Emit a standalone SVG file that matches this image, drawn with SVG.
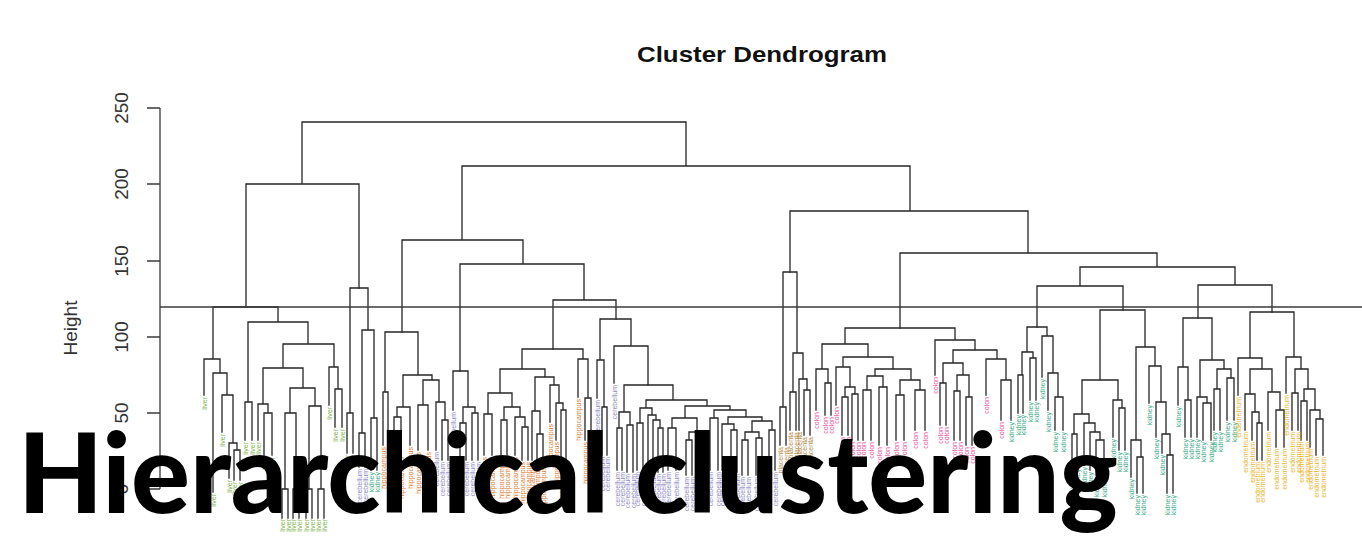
<svg xmlns="http://www.w3.org/2000/svg" width="1362" height="537" viewBox="0 0 1362 537">
<style>
.tr{fill:none;stroke:#262626;stroke-width:1.3;stroke-linecap:square}
.ax{fill:none;stroke:#3a3a3a;stroke-width:1.3}
.tk{font-family:"Liberation Sans",Arial,sans-serif;font-size:19px;fill:#333;text-anchor:middle}
.lb text{font-family:"Liberation Sans",Arial,sans-serif;font-size:7px;text-anchor:end;opacity:0.85}
.lv{fill:#66A61E}.kd{fill:#1B9E77}.hp{fill:#D95F02}.cb{fill:#7570B3}.co{fill:#E7298A}.en{fill:#E6AB02}.pl{fill:#A6761D}
</style>
<rect width="1362" height="537" fill="#fff"/>
<g id="title"><text x="762" y="62" font-family="Liberation Sans,Arial,sans-serif" font-weight="bold" font-size="22" fill="#111" text-anchor="middle" textLength="250" lengthAdjust="spacingAndGlyphs">Cluster Dendrogram</text></g>
<g id="axis">
<path class="ax" d="M160 108V489M147 108H160M147 184H160M147 261H160M147 337H160M147 413H160M147 489H160"/>
<text class="tk" transform="translate(128 108)rotate(-90)">250</text>
<text class="tk" transform="translate(128 184)rotate(-90)">200</text>
<text class="tk" transform="translate(128 261)rotate(-90)">150</text>
<text class="tk" transform="translate(128 337)rotate(-90)">100</text>
<text class="tk" transform="translate(128 413)rotate(-90)">50</text>
<text class="tk" transform="translate(128 489)rotate(-90)">0</text>
<text class="tk" font-size="21" transform="translate(77 328)rotate(-90)">Height</text>
</g>
<g id="connectors">
<path class="tr" d="M302 184V122H686V166M246 307V184H359V288M462 240V166H910V211M402 332V240H523V264M460 371V264H584V300M553 349V300H616V319M790 272V211H1028V253M900 328V253H1157V267M1080 286V267H1235V285M1037 327V286H1123V310M1198 318V285H1272V312"/>
<path class="tr" d="M213 359V307H278V322M204 395V359H220V373M213 492V373H227V395M222 432V395H233V443M229 478V443H237V450M234 480V450H240V480M248 402V322H308V344M245 440V402H252V440M283 368V344H334V367M263 404V368H303V388M258 440V404H268V413M264 455V413H272V455M290 413V388H315V406M285 489V413H296V489M282 518V489H288V518M293 518V489H299V518M309 489V406H321V489M306 518V489H312V518M318 518V489H324V518M329 405V367H338V389M335 427V389H342V427"/>
<path class="tr" d="M350 413V288H368V330M347 453V413H353V453M362 433V330H374V418M359 467V433H365V467M371 470V418H377V470"/>
<path class="tr" d="M385 392V332H418V375M383 445V392H388V445M403 407V375H432V380M397 417V407H410V445M394 455V417H401V455M423 405V380H439V402M418 450V405H428V450M436 450V402H445V420M442 460V420H448V460"/>
<path class="tr" d="M453 410V371H468V407M463 423V407H475V413M460 460V423H466V460M472 460V413H478V460"/>
<path class="tr" d="M522 369V349H583V359M500 393V369H545V377M488 414V393H512V407M484 455V414H492V455M504 420V407H520V417M501 455V420H507V455M515 455V417H525V427M522 460V427H528V460M535 411V377H554V385M532 460V411H540V434M537 465V434H543V465M550 422V385H559V403M556 440V403H563V410M561 460V410H566V460M578 397V359H588V398M585 440V398H591V440"/>
<path class="tr" d="M600 360V319H631V346M597 398V360H604V407M602 455V407H607V455M614 383V346H648V385"/>
<path class="tr" d="M624 412V385H673V400M619 428V412H630V425M617 470V428H622V470M627 472V425H633V472M646 408V400H707V406M640 423V408H652V415M637 470V423H643V470M648 468V415H656V420M653 470V420H660V428M658 472V428H663V472M685 418V406H730V410M672 428V418H697V432M668 470V428H676V470M689 440V432H704V472M686 475V440H692V475M714 418V410H746V417M710 470V418H718V470M728 424V417H762V421M722 470V424H734V430M731 472V430H737V472M752 432V421H772V430M745 440V432H759V438M742 475V440H748V475M756 475V438H762V475M769 470V430H775V470"/>
<path class="tr" d="M783 407V272H797V353M780 445V407H786V445M793 392V353H803V379M790 430V392H796V430M799 430V379H807V390M804 435V390H810V435"/>
<path class="tr" d="M845 344V328H955V340M822 369V344H868V357M816 410V369H828V383M825 415V383H831V415M843 367V357H893V369M836 405V367H850V387M845 397V387H855V394M842 435V397H848V435M852 440V394H858V440M875 376V369H911V380M867 390V376H883V387M863 440V390H871V440M879 445V387H887V445M900 395V380H920V390M896 440V395H904V440M915 430V390H925V430M935 375V340H975V350M953 363V350H997V359M943 383V363H963V375M940 425V383H946V425M957 391V375H969V397M954 440V391H960V440M966 445V397H972V445M986 395V359H1006V380M1001 420V380H1011V420"/>
<path class="tr" d="M1027 352V327H1047V336M1022 375V352H1033V358M1018 413V375H1023V413M1030 400V358H1036V400M1042 377V336H1053V373M1048 410V373H1058V397M1055 430V397H1063V430M1100 380V310H1145V347M1082 414V380H1118V400M1074 434V414H1089V423M1072 467V434H1077V467M1084 465V423H1095V432M1090 470V432H1100V440M1096 475V440H1104V475M1113 437V400H1122V408M1119 450V408H1125V450M1136 440V347H1155V366M1131 477V440H1141V457M1137 493V457H1143V493M1149 403V366H1161V402M1156 437V402H1166V434M1162 453V434H1170V455M1167 493V455H1173V493"/>
<path class="tr" d="M1183 367V318H1212V360M1178 405V367H1188V400M1185 437V400H1191V437M1200 397V360H1224V369M1197 437V397H1207V403M1203 440V403H1211V440M1217 389V369H1231V378M1214 430V389H1220V430M1227 420V378H1234V420"/>
<path class="tr" d="M1250 358V312H1294V357M1238 395V358H1262V369M1250 394V369H1272V392M1245 430V394H1255V412M1252 440V412H1259V423M1257 460V423H1262V460M1268 430V392H1280V410M1276 447V410H1284V447M1286 393V357H1301V369M1295 393V369H1308V389M1292 430V393H1298V430M1304 401V389H1315V410M1301 440V401H1307V440M1310 447V410H1320V419M1316 455V419H1323V455"/>
</g>
<g id="cutline"><path class="ax" d="M160 307H1362"/></g>
<g id="labels" class="lb">
<text class="lv" transform="translate(206.5 397)rotate(-90)">liver</text>
<text class="lv" transform="translate(215.5 494)rotate(-90)">liver</text>
<text class="lv" transform="translate(224.5 434)rotate(-90)">liver</text>
<text class="lv" transform="translate(231.5 480)rotate(-90)">liver</text>
<text class="lv" transform="translate(236.5 482)rotate(-90)">liver</text>
<text class="lv" transform="translate(242.5 482)rotate(-90)">liver</text>
<text class="lv" transform="translate(247.5 442)rotate(-90)">liver</text>
<text class="lv" transform="translate(254.5 442)rotate(-90)">liver</text>
<text class="lv" transform="translate(260.5 442)rotate(-90)">liver</text>
<text class="lv" transform="translate(266.5 457)rotate(-90)">liver</text>
<text class="lv" transform="translate(274.5 457)rotate(-90)">liver</text>
<text class="lv" transform="translate(284.5 519)rotate(-90)">liver</text>
<text class="lv" transform="translate(290.5 519)rotate(-90)">liver</text>
<text class="lv" transform="translate(295.5 519)rotate(-90)">liver</text>
<text class="lv" transform="translate(301.5 519)rotate(-90)">liver</text>
<text class="lv" transform="translate(308.5 519)rotate(-90)">liver</text>
<text class="lv" transform="translate(314.5 519)rotate(-90)">liver</text>
<text class="lv" transform="translate(320.5 519)rotate(-90)">liver</text>
<text class="lv" transform="translate(326.5 519)rotate(-90)">liver</text>
<text class="lv" transform="translate(331.5 407)rotate(-90)">liver</text>
<text class="lv" transform="translate(337.5 429)rotate(-90)">liver</text>
<text class="lv" transform="translate(344.5 429)rotate(-90)">liver</text>
<text class="lv" transform="translate(349.5 455)rotate(-90)">liver</text>
<text class="lv" transform="translate(355.5 455)rotate(-90)">liver</text>
<text class="cb" transform="translate(361.5 469)rotate(-90)">cerebellum</text>
<text class="cb" transform="translate(367.5 469)rotate(-90)">cerebellum</text>
<text class="kd" transform="translate(373.5 472)rotate(-90)">kidney</text>
<text class="kd" transform="translate(379.5 472)rotate(-90)">kidney</text>
<text class="hp" transform="translate(385.5 447)rotate(-90)">hippocampus</text>
<text class="hp" transform="translate(390.5 447)rotate(-90)">hippocampus</text>
<text class="hp" transform="translate(396.5 457)rotate(-90)">hippocampus</text>
<text class="hp" transform="translate(403.5 457)rotate(-90)">hippocampus</text>
<text class="hp" transform="translate(412.5 447)rotate(-90)">hippocampus</text>
<text class="hp" transform="translate(420.5 452)rotate(-90)">hippocampus</text>
<text class="hp" transform="translate(430.5 452)rotate(-90)">hippocampus</text>
<text class="cb" transform="translate(438.5 452)rotate(-90)">cerebellum</text>
<text class="cb" transform="translate(444.5 462)rotate(-90)">cerebellum</text>
<text class="cb" transform="translate(450.5 462)rotate(-90)">cerebellum</text>
<text class="cb" transform="translate(455.5 412)rotate(-90)">cerebellum</text>
<text class="cb" transform="translate(462.5 462)rotate(-90)">cerebellum</text>
<text class="cb" transform="translate(468.5 462)rotate(-90)">cerebellum</text>
<text class="cb" transform="translate(474.5 462)rotate(-90)">cerebellum</text>
<text class="cb" transform="translate(480.5 462)rotate(-90)">cerebellum</text>
<text class="hp" transform="translate(486.5 457)rotate(-90)">hippocampus</text>
<text class="hp" transform="translate(494.5 457)rotate(-90)">hippocampus</text>
<text class="hp" transform="translate(503.5 457)rotate(-90)">hippocampus</text>
<text class="hp" transform="translate(509.5 457)rotate(-90)">hippocampus</text>
<text class="hp" transform="translate(517.5 457)rotate(-90)">hippocampus</text>
<text class="hp" transform="translate(524.5 462)rotate(-90)">hippocampus</text>
<text class="hp" transform="translate(530.5 462)rotate(-90)">hippocampus</text>
<text class="hp" transform="translate(534.5 462)rotate(-90)">hippocampus</text>
<text class="hp" transform="translate(539.5 467)rotate(-90)">hippocampus</text>
<text class="hp" transform="translate(545.5 467)rotate(-90)">hippocampus</text>
<text class="hp" transform="translate(552.5 424)rotate(-90)">hippocampus</text>
<text class="hp" transform="translate(558.5 442)rotate(-90)">hippocampus</text>
<text class="hp" transform="translate(563.5 462)rotate(-90)">hippocampus</text>
<text class="hp" transform="translate(568.5 462)rotate(-90)">hippocampus</text>
<text class="hp" transform="translate(580.5 399)rotate(-90)">hippocampus</text>
<text class="hp" transform="translate(587.5 442)rotate(-90)">hippocampus</text>
<text class="cb" transform="translate(593.5 442)rotate(-90)">cerebellum</text>
<text class="cb" transform="translate(599.5 400)rotate(-90)">cerebellum</text>
<text class="cb" transform="translate(604.5 457)rotate(-90)">cerebellum</text>
<text class="cb" transform="translate(609.5 457)rotate(-90)">cerebellum</text>
<text class="cb" transform="translate(616.5 385)rotate(-90)">cerebellum</text>
<text class="cb" transform="translate(619.5 472)rotate(-90)">cerebellum</text>
<text class="cb" transform="translate(624.5 472)rotate(-90)">cerebellum</text>
<text class="cb" transform="translate(629.5 474)rotate(-90)">cerebellum</text>
<text class="cb" transform="translate(635.5 474)rotate(-90)">cerebellum</text>
<text class="cb" transform="translate(639.5 472)rotate(-90)">cerebellum</text>
<text class="cb" transform="translate(645.5 472)rotate(-90)">cerebellum</text>
<text class="cb" transform="translate(650.5 470)rotate(-90)">cerebellum</text>
<text class="cb" transform="translate(655.5 472)rotate(-90)">cerebellum</text>
<text class="cb" transform="translate(660.5 474)rotate(-90)">cerebellum</text>
<text class="cb" transform="translate(665.5 474)rotate(-90)">cerebellum</text>
<text class="cb" transform="translate(670.5 472)rotate(-90)">cerebellum</text>
<text class="cb" transform="translate(678.5 472)rotate(-90)">cerebellum</text>
<text class="cb" transform="translate(688.5 477)rotate(-90)">cerebellum</text>
<text class="cb" transform="translate(694.5 477)rotate(-90)">cerebellum</text>
<text class="cb" transform="translate(706.5 474)rotate(-90)">cerebellum</text>
<text class="cb" transform="translate(712.5 472)rotate(-90)">cerebellum</text>
<text class="cb" transform="translate(720.5 472)rotate(-90)">cerebellum</text>
<text class="cb" transform="translate(724.5 472)rotate(-90)">cerebellum</text>
<text class="cb" transform="translate(733.5 474)rotate(-90)">cerebellum</text>
<text class="cb" transform="translate(739.5 474)rotate(-90)">cerebellum</text>
<text class="cb" transform="translate(744.5 477)rotate(-90)">cerebellum</text>
<text class="cb" transform="translate(750.5 477)rotate(-90)">cerebellum</text>
<text class="cb" transform="translate(758.5 477)rotate(-90)">cerebellum</text>
<text class="cb" transform="translate(764.5 477)rotate(-90)">cerebellum</text>
<text class="cb" transform="translate(771.5 472)rotate(-90)">cerebellum</text>
<text class="cb" transform="translate(777.5 472)rotate(-90)">cerebellum</text>
<text class="pl" transform="translate(782.5 447)rotate(-90)">placenta</text>
<text class="pl" transform="translate(788.5 447)rotate(-90)">placenta</text>
<text class="pl" transform="translate(792.5 432)rotate(-90)">placenta</text>
<text class="pl" transform="translate(798.5 432)rotate(-90)">placenta</text>
<text class="pl" transform="translate(801.5 432)rotate(-90)">placenta</text>
<text class="pl" transform="translate(806.5 437)rotate(-90)">placenta</text>
<text class="pl" transform="translate(812.5 437)rotate(-90)">placenta</text>
<text class="co" transform="translate(818.5 412)rotate(-90)">colon</text>
<text class="co" transform="translate(827.5 417)rotate(-90)">colon</text>
<text class="co" transform="translate(833.5 417)rotate(-90)">colon</text>
<text class="co" transform="translate(838.5 407)rotate(-90)">colon</text>
<text class="co" transform="translate(844.5 437)rotate(-90)">colon</text>
<text class="co" transform="translate(850.5 437)rotate(-90)">colon</text>
<text class="co" transform="translate(854.5 442)rotate(-90)">colon</text>
<text class="co" transform="translate(860.5 442)rotate(-90)">colon</text>
<text class="co" transform="translate(865.5 442)rotate(-90)">colon</text>
<text class="co" transform="translate(873.5 442)rotate(-90)">colon</text>
<text class="co" transform="translate(881.5 447)rotate(-90)">colon</text>
<text class="co" transform="translate(889.5 447)rotate(-90)">colon</text>
<text class="co" transform="translate(898.5 442)rotate(-90)">colon</text>
<text class="co" transform="translate(906.5 442)rotate(-90)">colon</text>
<text class="co" transform="translate(917.5 432)rotate(-90)">colon</text>
<text class="co" transform="translate(927.5 432)rotate(-90)">colon</text>
<text class="co" transform="translate(937.5 377)rotate(-90)">colon</text>
<text class="co" transform="translate(942.5 427)rotate(-90)">colon</text>
<text class="co" transform="translate(948.5 427)rotate(-90)">colon</text>
<text class="co" transform="translate(956.5 442)rotate(-90)">colon</text>
<text class="co" transform="translate(962.5 442)rotate(-90)">colon</text>
<text class="co" transform="translate(968.5 447)rotate(-90)">colon</text>
<text class="co" transform="translate(974.5 447)rotate(-90)">colon</text>
<text class="co" transform="translate(988.5 397)rotate(-90)">colon</text>
<text class="co" transform="translate(1003.5 422)rotate(-90)">colon</text>
<text class="kd" transform="translate(1013.5 422)rotate(-90)">kidney</text>
<text class="kd" transform="translate(1020.5 415)rotate(-90)">kidney</text>
<text class="kd" transform="translate(1025.5 415)rotate(-90)">kidney</text>
<text class="kd" transform="translate(1032.5 402)rotate(-90)">kidney</text>
<text class="kd" transform="translate(1038.5 402)rotate(-90)">kidney</text>
<text class="kd" transform="translate(1044.5 379)rotate(-90)">kidney</text>
<text class="kd" transform="translate(1050.5 412)rotate(-90)">kidney</text>
<text class="kd" transform="translate(1057.5 432)rotate(-90)">kidney</text>
<text class="kd" transform="translate(1065.5 432)rotate(-90)">kidney</text>
<text class="kd" transform="translate(1074.5 469)rotate(-90)">kidney</text>
<text class="kd" transform="translate(1079.5 469)rotate(-90)">kidney</text>
<text class="kd" transform="translate(1086.5 467)rotate(-90)">kidney</text>
<text class="kd" transform="translate(1092.5 472)rotate(-90)">kidney</text>
<text class="kd" transform="translate(1098.5 477)rotate(-90)">kidney</text>
<text class="kd" transform="translate(1106.5 477)rotate(-90)">kidney</text>
<text class="kd" transform="translate(1115.5 439)rotate(-90)">kidney</text>
<text class="kd" transform="translate(1121.5 452)rotate(-90)">kidney</text>
<text class="kd" transform="translate(1127.5 452)rotate(-90)">kidney</text>
<text class="kd" transform="translate(1133.5 479)rotate(-90)">kidney</text>
<text class="kd" transform="translate(1139.5 495)rotate(-90)">kidney</text>
<text class="kd" transform="translate(1145.5 495)rotate(-90)">kidney</text>
<text class="kd" transform="translate(1151.5 405)rotate(-90)">kidney</text>
<text class="kd" transform="translate(1158.5 439)rotate(-90)">kidney</text>
<text class="kd" transform="translate(1164.5 455)rotate(-90)">kidney</text>
<text class="kd" transform="translate(1169.5 495)rotate(-90)">kidney</text>
<text class="kd" transform="translate(1175.5 495)rotate(-90)">kidney</text>
<text class="kd" transform="translate(1180.5 407)rotate(-90)">kidney</text>
<text class="kd" transform="translate(1187.5 439)rotate(-90)">kidney</text>
<text class="kd" transform="translate(1193.5 439)rotate(-90)">kidney</text>
<text class="kd" transform="translate(1199.5 439)rotate(-90)">kidney</text>
<text class="kd" transform="translate(1205.5 442)rotate(-90)">kidney</text>
<text class="kd" transform="translate(1213.5 442)rotate(-90)">kidney</text>
<text class="kd" transform="translate(1216.5 432)rotate(-90)">kidney</text>
<text class="kd" transform="translate(1222.5 432)rotate(-90)">kidney</text>
<text class="kd" transform="translate(1229.5 422)rotate(-90)">kidney</text>
<text class="kd" transform="translate(1236.5 422)rotate(-90)">kidney</text>
<text class="en" transform="translate(1240.5 397)rotate(-90)">endometrium</text>
<text class="en" transform="translate(1247.5 432)rotate(-90)">endometrium</text>
<text class="en" transform="translate(1254.5 442)rotate(-90)">endometrium</text>
<text class="en" transform="translate(1259.5 462)rotate(-90)">endometrium</text>
<text class="en" transform="translate(1264.5 462)rotate(-90)">endometrium</text>
<text class="en" transform="translate(1270.5 432)rotate(-90)">endometrium</text>
<text class="en" transform="translate(1278.5 449)rotate(-90)">endometrium</text>
<text class="en" transform="translate(1286.5 449)rotate(-90)">endometrium</text>
<text class="en" transform="translate(1288.5 395)rotate(-90)">endometrium</text>
<text class="en" transform="translate(1294.5 432)rotate(-90)">endometrium</text>
<text class="en" transform="translate(1300.5 432)rotate(-90)">endometrium</text>
<text class="en" transform="translate(1303.5 442)rotate(-90)">endometrium</text>
<text class="en" transform="translate(1309.5 442)rotate(-90)">endometrium</text>
<text class="en" transform="translate(1312.5 449)rotate(-90)">endometrium</text>
<text class="en" transform="translate(1318.5 457)rotate(-90)">endometrium</text>
<text class="en" transform="translate(1325.5 457)rotate(-90)">endometrium</text>
</g>
<g id="overlay"><text x="18" y="513" font-family="Lato,'Open Sans',sans-serif" font-weight="900" font-size="110" fill="#000">Hierarchical clustering</text></g>
</svg>
